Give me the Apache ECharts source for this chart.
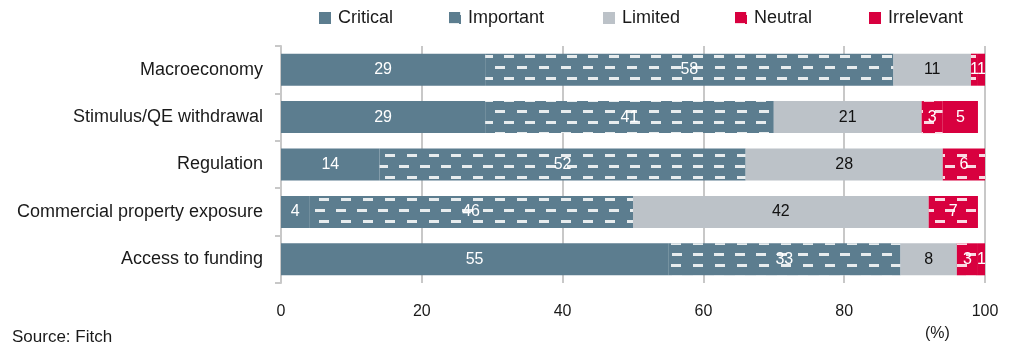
<!DOCTYPE html>
<html>
<head>
<meta charset="utf-8">
<script src="https://cdn.jsdelivr.net/npm/echarts@6/dist/echarts.min.js"></script>
<style>
  html, body { margin: 0; padding: 0; background: #fff; }
  #chart { width: 1013px; height: 345px; }
</style>
</head>
<body>
<div id="chart"></div>
<script>
// Survey: importance of each factor (% of respondents)
const categories = ['Macroeconomy', 'Stimulus/QE withdrawal', 'Regulation', 'Commercial property exposure', 'Access to funding'];
const seriesNames = ['Critical', 'Important', 'Limited', 'Neutral', 'Irrelevant'];
const critical   = [29, 29, 14, 4, 55];
const important  = [58, 41, 52, 46, 33];
const limited    = [11, 21, 28, 42, 8];
const neutral    = [1, 3, 6, 7, 3];
const irrelevant = [1, 5, 0, 0, 1];
const xTicks = [0, 20, 40, 60, 80, 100];

const FONT = "'Liberation Sans', Arial, sans-serif";
const TEXT = '#1a1a1a';
const BLUE = '#5c7d8f';
const GREY = '#bcc2c8';
const RED = '#d8003f';

// white dashed hatch used by the "Important" and "Neutral" bands
const dashDecal = {
  symbol: 'rect',
  symbolSize: 1,
  dashArrayX: [[10, 11], [0, 10.5, 10, 0.5]],
  dashArrayY: [3, 7.5],
  color: 'rgba(255,255,255,0.85)',
  rotation: 0
};

function makeSeries(name, data, color, labelColor, decal) {
  return {
    name: name,
    type: 'bar',
    stack: 'total',
    barWidth: 32,
    data: data,
    itemStyle: decal ? { color: color, decal: decal } : { color: color },
    label: {
      show: true,
      position: 'inside',
      color: labelColor,
      fontFamily: FONT,
      fontSize: 16,
      formatter: p => (p.value ? String(p.value) : '')
    },
    emphasis: { disabled: true }
  };
}

// one legend block per entry so each sits at its own x
const legendLeft = [319, 449, 603, 735, 869];
const legends = seriesNames.map((name, i) => ({
  data: [name],
  left: legendLeft[i],
  top: 9,
  padding: 0,
  itemWidth: 12,
  itemHeight: 12,
  icon: 'rect',
  textStyle: { fontFamily: FONT, fontSize: 18, color: TEXT, padding: [0, 0, 0, 2] }
}));

const chart = echarts.init(document.getElementById('chart'), null, { renderer: 'canvas' });
chart.setOption({
  animation: false,
  textStyle: { fontFamily: FONT },
  legend: legends,
  grid: { left: 281, right: 28, top: 46, bottom: 62, containLabel: false },
  xAxis: {
    type: 'value',
    min: 0,
    max: 100,
    interval: 20,
    axisLine: { show: false },
    axisTick: { show: false },
    splitLine: { show: true, lineStyle: { color: '#c8c8c8', width: 2 } },
    axisLabel: {
      margin: 21,
      fontFamily: FONT,
      fontSize: 16,
      color: TEXT,
      formatter: v => (xTicks.includes(v) ? String(v) : '')
    }
  },
  yAxis: {
    type: 'category',
    inverse: true,
    data: categories,
    axisLine: { show: true, lineStyle: { color: '#c8c8c8', width: 2 } },
    axisTick: { show: true, length: 6, lineStyle: { color: '#c8c8c8', width: 2 } },
    axisLabel: { margin: 18, fontFamily: FONT, fontSize: 18, color: TEXT }
  },
  graphic: [
    { type: 'text', left: 925, top: 326, style: { text: '(%)', font: '16px ' + FONT, fill: TEXT } },
    { type: 'text', left: 12, top: 329, style: { text: 'Source: Fitch', font: '17px ' + FONT, fill: TEXT } }
  ],
  series: [
    makeSeries('Critical', critical, BLUE, '#fff'),
    makeSeries('Important', important, BLUE, '#fff', dashDecal),
    makeSeries('Limited', limited, GREY, '#111'),
    makeSeries('Neutral', neutral, RED, '#fff', dashDecal),
    makeSeries('Irrelevant', irrelevant, RED, '#fff')
  ]
});
</script>
</body>
</html>
